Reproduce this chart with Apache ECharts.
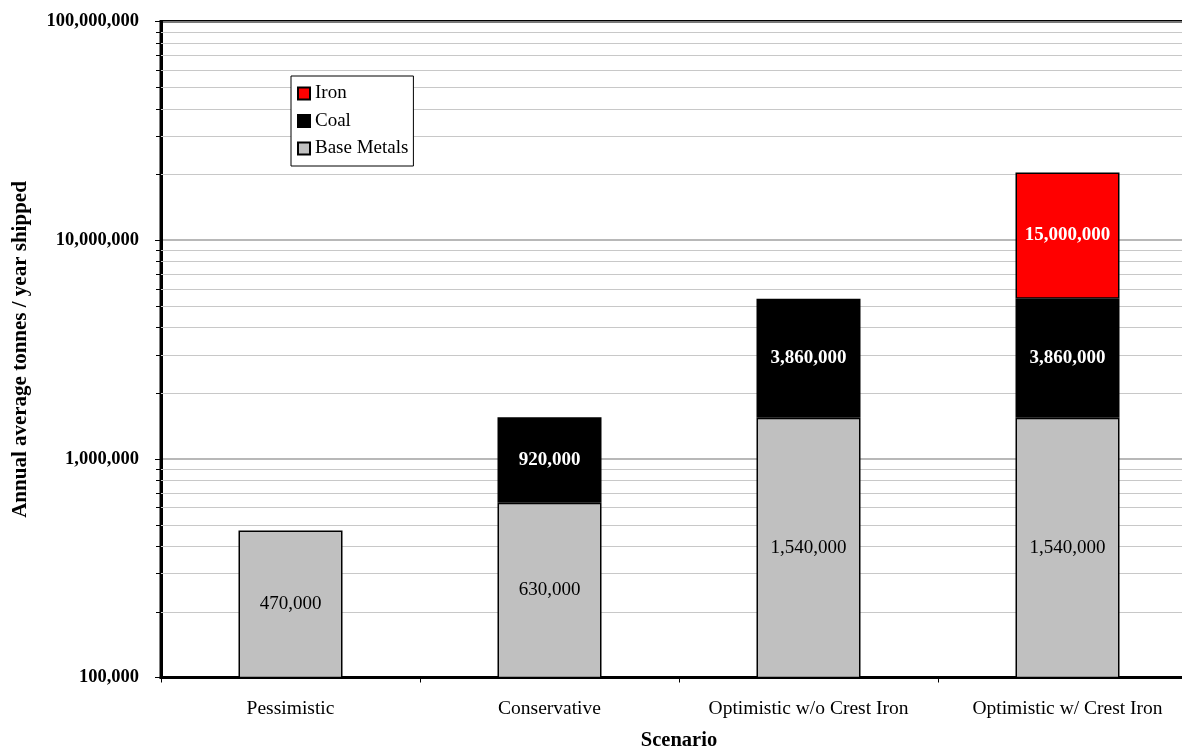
<!DOCTYPE html>
<html>
<head>
<meta charset="utf-8">
<script src="https://cdn.jsdelivr.net/npm/echarts@6/dist/echarts.min.js"></script>
<style>
html,body{margin:0;padding:0;background:#fff;}
#chart{width:1182px;height:749px;}
</style>
</head>
<body>
<div id="chart"></div>
<script>
const categories = ['Pessimistic', 'Conservative', 'Optimistic w/o Crest Iron', 'Optimistic w/ Crest Iron'];
const baseMetals = [470000, 630000, 1540000, 1540000];
const coal = [null, 920000, 3860000, 3860000];
const iron = [null, null, null, 15000000];
const legendNames = ['Iron', 'Coal', 'Base Metals'];
const yMin = 100000;
const yMax = 100000000;
const minorGridValues = [
  200000, 300000, 400000, 500000, 600000, 700000, 800000, 900000,
  2000000, 3000000, 4000000, 5000000, 6000000, 7000000, 8000000, 9000000,
  20000000, 30000000, 40000000, 50000000, 60000000, 70000000, 80000000, 90000000
];

const FONT = "'Times New Roman', 'Liberation Serif', serif";
const fmt = v => Number(v).toLocaleString('en-US');

const chart = echarts.init(document.getElementById('chart'), null, {renderer: 'canvas'});

function barSeries(name, data, color, labelColor, bold) {
  return {
    name: name,
    type: 'bar',
    stack: 'total',
    data: data,
    barWidth: 104,
    z: 3,
    itemStyle: {color: color, borderColor: '#000', borderWidth: 1.5},
    label: {
      show: true,
      position: 'inside',
      formatter: p => fmt(p.value),
      color: labelColor,
      fontFamily: FONT,
      fontSize: 19,
      fontWeight: bold ? 'bold' : 'normal'
    },
    emphasis: {disabled: true}
  };
}

const option = {
  backgroundColor: '#fff',
  animation: false,
  grid: {
    left: 161, top: 21.5, width: 1036, bottom: 71.5,
    outerBoundsMode: 'none',
    containLabel: false,
    show: true, borderColor: '#000', borderWidth: 3, backgroundColor: 'transparent'
  },
  legend: {
    data: legendNames,
    orient: 'vertical',
    left: 291, top: 76,
    itemWidth: 12, itemHeight: 12,
    itemGap: 8.5,
    padding: [8, 5, 8, 6],
    borderColor: '#000', borderWidth: 1,
    backgroundColor: '#fff',
    icon: 'rect',
    selectedMode: false,
    textStyle: {fontFamily: FONT, fontSize: 19, color: '#000'}
  },
  xAxis: {
    type: 'category',
    data: categories,
    name: 'Scenario',
    nameLocation: 'middle',
    nameGap: 53,
    nameTextStyle: {fontFamily: FONT, fontSize: 20.5, fontWeight: 'bold', color: '#000'},
    axisLine: {show: true, lineStyle: {color: '#000', width: 3}},
    axisTick: {show: true, length: 5, lineStyle: {color: '#000', width: 1}},
    axisLabel: {fontFamily: FONT, fontSize: 19.5, color: '#000', margin: 21, interval: 0, hideOverlap: false},
    splitLine: {show: false}
  },
  yAxis: {
    type: 'log',
    logBase: 10,
    min: yMin,
    max: yMax,
    name: 'Annual average tonnes / year shipped',
    nameLocation: 'middle',
    nameGap: 130,
    nameRotate: 90,
    nameTextStyle: {fontFamily: FONT, fontSize: 21, fontWeight: 'bold', color: '#000'},
    axisLine: {show: true, lineStyle: {color: '#000', width: 3}},
    axisTick: {show: true, length: 6, lineStyle: {color: '#000', width: 1}},
    axisLabel: {fontFamily: FONT, fontSize: 18.5, fontWeight: 'bold', color: '#000', margin: 22, formatter: v => fmt(v)},
    splitLine: {show: true, lineStyle: {color: '#a0a0a0', width: 1.5}}
  },
  series: [
    {
      name: 'minorGrid',
      type: 'custom',
      coordinateSystem: 'cartesian2d',
      z: 1,
      silent: true,
      clip: false,
      data: minorGridValues.map(v => [0, v]),
      encode: {x: 0, y: 1},
      renderItem: function (params, api) {
        const cs = params.coordSys;
        const y = Math.round(api.coord([0, api.value(1)])[1]) + 0.5;
        return {
          type: 'group',
          children: [
            {type: 'line', shape: {x1: cs.x, y1: y, x2: cs.x + cs.width, y2: y}, style: {stroke: '#c8c8c8', lineWidth: 1}},
            {type: 'line', shape: {x1: cs.x - 5, y1: y, x2: cs.x, y2: y}, style: {stroke: '#000', lineWidth: 1}}
          ]
        };
      }
    },
    barSeries('Base Metals', baseMetals, '#c0c0c0', '#000', false),
    barSeries('Coal', coal, '#000000', '#fff', true),
    barSeries('Iron', iron, '#ff0000', '#fff', true)
  ]
};

chart.setOption(option);
</script>
</body>
</html>
